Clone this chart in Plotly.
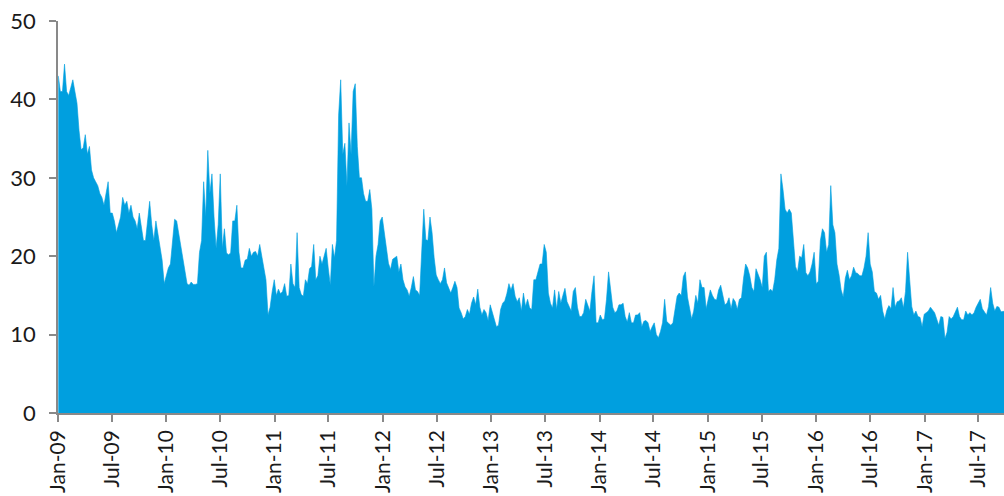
import pandas as pd
import plotly.graph_objects as go

# weekly readings (Friday closes), one list per calendar year
vol_2009 = [43, 41, 41, 44.5, 41, 40.5, 41.5, 42.5, 41, 39.5,
            36, 33.6, 33.8, 35.5, 33, 34, 31, 30, 29.5, 29,
            28, 27.5, 26.5, 28, 29.5, 25.5, 25.5, 24.5, 23, 24,
            25, 27.5, 26.5, 27, 25.5, 26.5, 25, 24.5, 23.5, 25.5,
            23.5, 22, 22, 25, 27, 24, 22, 24.5, 23, 21.5,
            19.5, 16.5]
vol_2010 = [17.5, 18.5, 19, 22, 24.7, 24.5, 23, 21.5, 20, 18,
            16.5, 16.3, 16.7, 16.4, 16.4, 16.5, 20.5, 22, 29.5, 25,
            33.5, 28, 30.5, 25, 21, 24, 30.5, 21, 23.5, 20.4,
            20.2, 20.4, 24.5, 24.5, 26.5, 20.5, 18.5, 18.5, 19.5, 19.6,
            21, 20, 20.5, 20.6, 20, 21.5, 20, 19, 17, 12.5,
            13.5, 15.5, 17]
vol_2011 = [15, 15.8, 15.2, 15.5, 16.5, 14.9, 15, 19, 16.5, 16,
            23, 16, 15.1, 14.9, 17, 16.5, 18.4, 18.7, 21.5, 17,
            17.5, 20, 19, 20, 21, 18.5, 16.3, 21.5, 19.8, 22,
            38, 42.5, 33, 34.4, 29, 37, 33, 41, 42, 34,
            30, 30, 28, 27, 27, 28.5, 26, 16.1, 20, 21.5,
            24.5, 25]
vol_2012 = [22.9, 20.5, 19.1, 18.3, 19.6, 19.8, 20, 18, 19, 17,
            16.1, 15.7, 14.9, 16, 17.4, 15.7, 15.5, 15, 20, 26,
            22.1, 22, 25, 23, 19.8, 17.6, 17, 16.5, 17, 18.5,
            16.6, 16, 15.3, 16, 16.8, 16, 13.4, 12.8, 12, 12.3,
            13.2, 12.6, 14, 14.8, 13.8, 15.8, 13.5, 12.5, 13.2, 12.8,
            11.8, 13.8]
vol_2013 = [12.8, 12, 11, 11.2, 13.2, 14, 14.3, 15.2, 16.5, 15.7,
            16.5, 14.9, 14.2, 14.7, 13, 15.3, 13.6, 14.5, 13.4, 13.2,
            17, 17, 18, 19, 19, 21.5, 20.5, 15.3, 14, 13.4,
            15.7, 13.2, 15.5, 14, 15, 15.9, 14.2, 13.5, 13, 15.5,
            16, 13.5, 12.3, 12.3, 12.8, 14.5, 13.6, 13, 15.5, 17.5,
            11.5, 11.5]
vol_2014 = [12.5, 11.9, 12, 14.5, 18, 15.7, 13.5, 12.8, 13, 13.8,
            13.8, 14, 12.3, 11.6, 12.8, 11.5, 11.5, 12.5, 12.5, 12.8,
            11, 11.7, 11.8, 11.5, 10.4, 11, 11.5, 10, 9.6, 10.4,
            11.5, 14.5, 11.7, 11.4, 11.2, 11.5, 13.2, 14.9, 15.3, 15,
            17.4, 18, 14.8, 13.2, 12, 13, 15, 14, 17, 16,
            16, 13.3]
vol_2015 = [14.4, 15.7, 15, 14.5, 14.4, 15.7, 16.3, 15, 13.8, 14,
            14.7, 13.3, 14.6, 14.2, 13.2, 14.5, 14.7, 17.2, 19, 18.5,
            17.5, 16, 15.5, 18.4, 17.8, 17, 16, 20, 20.5, 15.5,
            15.8, 15.5, 17, 19.5, 21, 30.5, 28.5, 26, 25.5, 26,
            25.5, 21.5, 18.7, 18, 20, 19.8, 21.5, 17.9, 17.5, 18,
            19, 20.5]
vol_2016 = [16.5, 16.8, 22, 23.5, 23, 20.5, 21.5, 29, 24, 23,
            19, 17.6, 15.7, 14.8, 17.2, 18.2, 17, 17.5, 18.6, 17.9,
            17.8, 17.5, 17.5, 18.5, 20, 23, 19, 18, 15.5, 15.3,
            14.5, 15, 13, 12, 13.1, 13.7, 13.3, 16, 13.5, 14.2,
            14.3, 14.7, 13.4, 15.5, 20.5, 17, 13.6, 12.5, 13, 12.3,
            12.2, 11, 12.6]
vol_2017 = [12.8, 13, 13.5, 13.2, 12.8, 12, 11.2, 12.3, 12.2, 9.5,
            10.3, 12.3, 12, 12.3, 13, 13.5, 12.3, 11.9, 11.9, 13,
            12.5, 12.8, 12.5, 12.8, 13.5, 14, 14.5, 13.3, 12.9, 12.5,
            13.6, 16, 14, 13, 13.6, 13.5, 12.9, 13, 13]

values = (vol_2009 + vol_2010 + vol_2011 + vol_2012 + vol_2013
          + vol_2014 + vol_2015 + vol_2016 + vol_2017)
dates = pd.date_range("2009-01-02", periods=len(values), freq="7D")

y_ticks = [0, 10, 20, 30, 40, 50]

BLUE = "#009FDF"
AXIS = "#898989"
FONT = dict(family="Lato, Open Sans, sans-serif", size=20, color="#1a1a1a")

fig = go.Figure()
fig.add_trace(go.Scatter(
    x=dates, y=values,
    mode="lines", fill="tozeroy",
    line=dict(color=BLUE, width=0.6),
    fillcolor=BLUE,
    hoverinfo="x+y", showlegend=False
))

fig.update_layout(
    width=1004, height=496,
    margin=dict(l=58, r=0, t=21, b=83),
    paper_bgcolor="white", plot_bgcolor="white",
    font=FONT,
)
fig.update_xaxes(
    type="date", automargin=False,
    range=["2009-01-01", "2017-09-25"],
    tick0="2009-01-01", dtick="M6", tickformat="%b-%y",
    tickangle=-90,
    ticks="outside", ticklen=7, tickwidth=1.5, tickcolor=AXIS,
    showline=True, linecolor=AXIS, linewidth=1.5,
    showgrid=False, zeroline=False,
    tickfont=dict(size=21),
)
fig.update_yaxes(
    automargin=False,
    range=[0, 50], tickvals=y_ticks,
    ticks="outside", ticklen=7, tickwidth=1.5, tickcolor=AXIS,
    showline=True, linecolor=AXIS, linewidth=1.5,
    showgrid=False, zeroline=False,
    ticklabelstandoff=9,
    tickfont=dict(size=22),
)

# drop the default page margin so the 1004x496 figure fills the window exactly
fig.write_html(
    "out.html",
    config={"displayModeBar": False},
    post_script="document.body.style.margin='0';document.body.style.overflow='hidden';",
)
